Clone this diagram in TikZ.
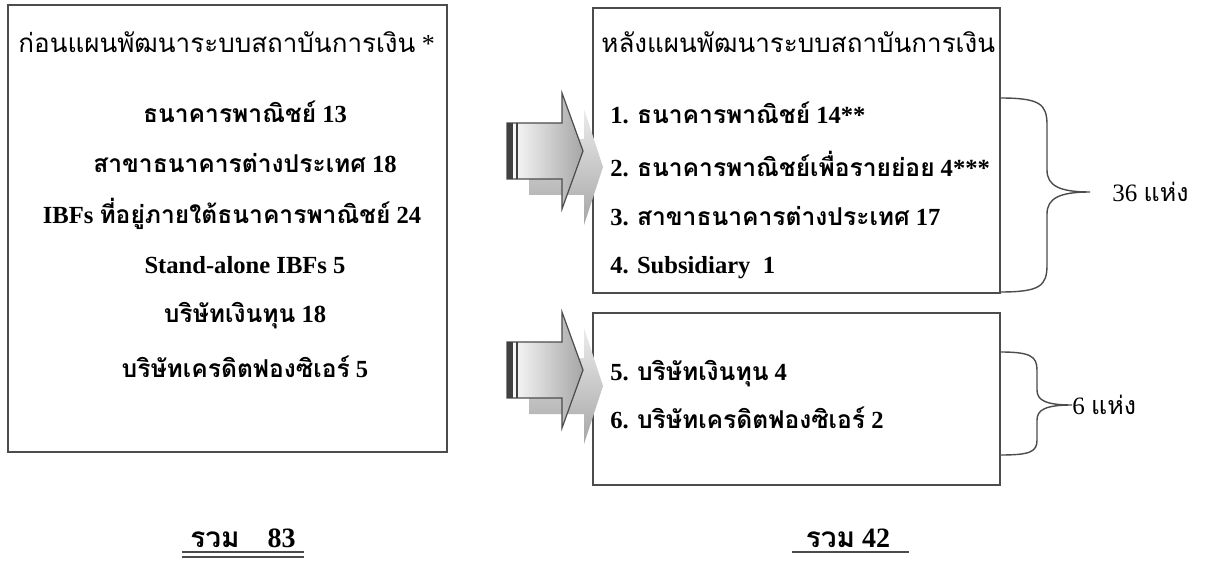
\documentclass[tikz,border=0pt]{standalone}
\usepackage{fontspec}
\setmainfont{Liberation Serif}
\newfontfamily\thaifont[Script=Thai]{Loma}
\newcommand{\tf}[1]{{\thaifont #1}}
\usepackage{tikz}
\usetikzlibrary{positioning,calc}
\tikzstyle{panel} = [draw=black!70, line width=0.8pt, inner sep=0pt]
\tikzstyle{brace} = [draw=black!70, line width=0.7pt]

\begin{document}
\begin{tikzpicture}[x=0.5pt,y=-0.5pt,
		title/.style = {font=\fontsize{13}{15}\selectfont, anchor=west, inner sep=0pt},
		item/.style  = {font=\bfseries\fontsize{12.3}{14}\selectfont, inner sep=0pt},
		tally/.style = {font=\fontsize{12.5}{15}\selectfont, anchor=west, inner sep=0pt},
		total/.style = {font=\bfseries\fontsize{14}{16}\selectfont, inner sep=1pt},
		fatarrow/.pic = {
			\path[top color=gray!15, bottom color=gray!70]
			(22,-12) -- (77,-12) -- (77,-42) -- (96,16) -- (77,74) -- (77,44) -- (22,44) -- cycle;
			\path[draw=black!70, line width=0.6pt, left color=white, right color=gray!70]
			(0,-28) -- (55,-28) -- (55,-58) -- (76,0) -- (55,58) -- (55,28) -- (0,28) -- cycle;
			\fill[black!75] (0,-28) rectangle (6,28);
			\draw[black!75, line width=0.6pt] (10,-28) -- (10,28);
		},
		]
		\useasboundingbox (0,0) rectangle (1208,566);
		% boxes
		\node[panel, minimum width=219.5pt, minimum height=223.5pt] (before) at (227.5,228.5) {};
		\node[panel, minimum width=203.5pt, minimum height=142.5pt] (after) at (796.5,150.5) {};
		\node[panel, minimum width=203.5pt, minimum height=86pt] (afterlow) at (796.5,399) {};
		% before
		\node[title] (tb) at (18,42) {\tf{ก่อนแผนพัฒนาระบบสถาบันการเงิน} *};
		\node[item] (b1) at (245,112) {\tf{ธนาคารพาณิชย์} 13};
		\node[item] (b2) at (245,163) {\tf{สาขาธนาคารต่างประเทศ} 18};
		\node[item] (b3) at (232,214) {IBFs \tf{ที่อยู่ภายใต้ธนาคารพาณิชย์} 24};
		\node[item] (b4) at (245,265) {Stand-alone IBFs 5};
		\node[item] (b5) at (245,316) {\tf{บริษัทเงินทุน} 18};
		\node[item] (b6) at (245,367) {\tf{บริษัทเครดิตฟองซิเอร์} 5};
		% after
		\node[title] (ta) at (601,42) {\tf{หลังแผนพัฒนาระบบสถาบันการเงิน}};
		\node[item, anchor=west] (a1) at (610,113) {1. \tf{ธนาคารพาณิชย์} 14**};
		\node[item, anchor=west] (a2) at (610,164) {2. \tf{ธนาคารพาณิชย์เพื่อรายย่อย} 4***};
		\node[item, anchor=west] (a3) at (610,216) {3. \tf{สาขาธนาคารต่างประเทศ} 17};
		\node[item, anchor=west] (a4) at (610,268) {4. Subsidiary\ \ 1};
		\node[item, anchor=west] (a5) at (610,374) {5. \tf{บริษัทเงินทุน} 4};
		\node[item, anchor=west] (a6) at (610,418) {6. \tf{บริษัทเครดิตฟองซิเอร์} 2};
		% arrows
		\pic (arr1) at (507,151) {fatarrow};
		\pic (arr2) at (507,370) {fatarrow};
		% braces
		\node[tally] (n36) at (1112,192) {36 \tf{แห่ง}};
		\node[tally] (n6) at (1072,405) {6 \tf{แห่ง}};
		\coordinate (br1a) at (1000,98);
		\coordinate (br1b) at (1000,292);
		\coordinate (br2a) at (1000,352);
		\coordinate (br2b) at (1000,455);
		\draw[brace] (br1a) .. controls (1040,98) and (1047,104) .. (1047,125) -- (1047,170)
		.. controls (1047,186) and (1060,192) .. (1090,192)
		.. controls (1060,192) and (1047,198) .. (1047,214) -- (1047,265)
		.. controls (1047,286) and (1040,292) .. (br1b);
		\draw[brace] (br2a) .. controls (1030,352) and (1037,356) .. (1037,370) -- (1037,390)
		.. controls (1037,400) and (1045,405) .. (n6.west)
		.. controls (1045,405) and (1037,410) .. (1037,420) -- (1037,440)
		.. controls (1037,452) and (1030,455) .. (br2b);
		% totals
		\node[total] (sum1) at (243,538) {\tf{รวม}\quad 83};
		\node[total] (sum2) at (848,538) {\tf{รวม} 42};
		\draw[black!70, line width=0.8pt] ([xshift=-3pt,yshift=-1pt]sum1.south west) -- ([xshift=3pt,yshift=-1pt]sum1.south east);
		\draw[black!70, line width=0.8pt] ([xshift=-3pt,yshift=-3.5pt]sum1.south west) -- ([xshift=3pt,yshift=-3.5pt]sum1.south east);
		\draw[black!70, line width=0.8pt] ([xshift=-6pt,yshift=-1pt]sum2.south west) -- ([xshift=8pt,yshift=-1pt]sum2.south east);
\end{tikzpicture}
\end{document}
